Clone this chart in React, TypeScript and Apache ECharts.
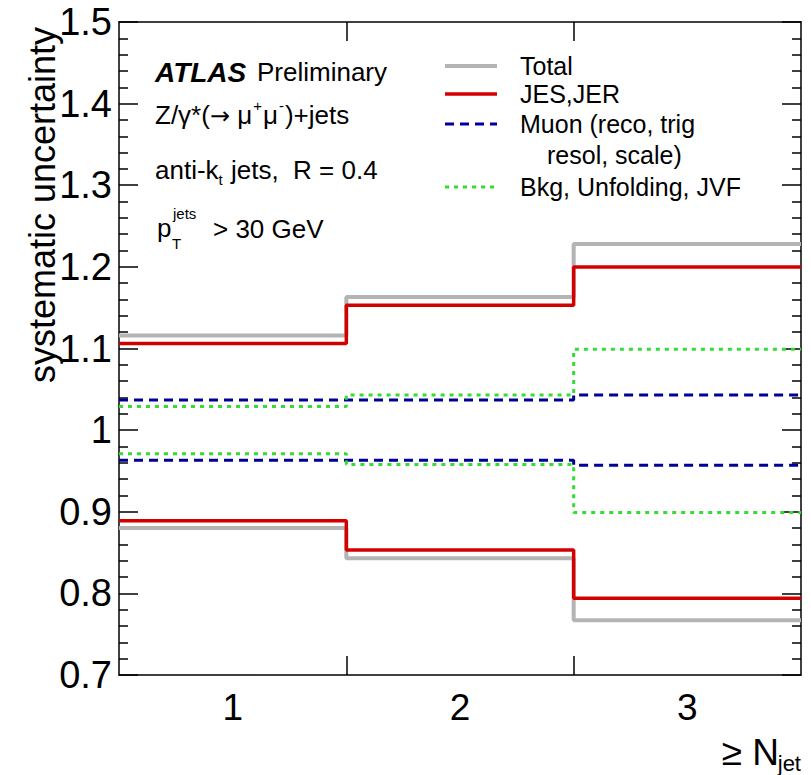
import React, { useEffect, useRef } from "react";
import * as echarts from "echarts";

const binEdges = [0.5, 1.5, 2.5, 3.5];
const xTickLabels = [1, 2, 3];
const totalUp = [1.116, 1.163, 1.228];
const totalDown = [0.88, 0.843, 0.767];
const jesUp = [1.106, 1.153, 1.2];
const jesDown = [0.889, 0.853, 0.794];
const muonUp = [1.037, 1.037, 1.043];
const muonDown = [0.963, 0.963, 0.957];
const bkgUp = [1.029, 1.043, 1.099];
const bkgDown = [0.971, 0.958, 0.899];

const FONT = "'Liberation Sans', Arial, Helvetica, sans-serif";

function stepData(vals: number[]) {
  const d: number[][] = vals.map((v, i) => [binEdges[i], v]);
  d.push([binEdges[binEdges.length - 1], vals[vals.length - 1]]);
  return d;
}

export default function App() {
  const ref = useRef<HTMLDivElement>(null);
  useEffect(() => {
    if (!ref.current) return;
    const chart = echarts.init(ref.current, undefined, { renderer: "svg" });
    const styles: Record<string, any> = {
      Total: { color: "#b4b4b4", width: 4, type: "solid" },
      "JES,JER": { color: "#d40000", width: 3.5, type: "solid" },
      Muon: { color: "#000096", width: 3, type: [9, 6] },
      Bkg: { color: "#33dd33", width: 3, type: [4, 5] },
    };
    const mk = (name: string, vals: number[]) => ({
      name,
      type: "line",
      step: "end",
      data: stepData(vals),
      symbol: "none",
      lineStyle: styles[name],
      silent: true,
    });
    const series = [
      mk("Total", totalUp),
      mk("Total", totalDown),
      mk("JES,JER", jesUp),
      mk("JES,JER", jesDown),
      mk("Muon", muonUp),
      mk("Muon", muonDown),
      mk("Bkg", bkgUp),
      mk("Bkg", bkgDown),
    ];
    const axisLine = { show: true, lineStyle: { color: "#000", width: 1.5 } };
    const tickStyle = { color: "#000", width: 1.5 };
    const legendItems = [
      { label: "Total", y: 66, st: styles.Total },
      { label: "JES,JER", y: 94, st: styles["JES,JER"] },
      { label: "Muon (reco, trig", y: 124, st: styles.Muon },
      { label: "Bkg, Unfolding, JVF", y: 187, st: styles.Bkg },
    ];
    const graphic: any[] = [];
    legendItems.forEach((it) => {
      graphic.push({
        type: "line",
        shape: { x1: 445, y1: it.y, x2: 497, y2: it.y },
        style: { stroke: it.st.color, lineWidth: it.st.width, lineDash: Array.isArray(it.st.type) ? it.st.type : null },
      });
      graphic.push({
        type: "text",
        x: 520,
        y: it.y,
        style: { text: it.label, font: `25px ${FONT}`, fill: "#000", align: "left", verticalAlign: "middle" },
      });
    });
    graphic.push({
      type: "text",
      x: 547,
      y: 155,
      style: { text: "resol, scale)", font: `25px ${FONT}`, fill: "#000", align: "left", verticalAlign: "middle" },
    });
    const t = (text: string, x: number, y: number, size: number, extra: any = {}) => ({
      type: "text",
      x,
      y,
      style: { text, font: `${extra.weight || ""} ${extra.italic ? "italic" : ""} ${size}px ${FONT}`, fill: "#000", align: extra.align || "left", verticalAlign: "middle" },
      rotation: extra.rotation || 0,
    });
    graphic.push(t("ATLAS", 155, 72, 28, { weight: "bold", italic: true }));
    graphic.push(t("Preliminary", 257, 72, 26));
    graphic.push({
      type: "text",
      x: 155,
      y: 113,
      style: {
        text: "{a|Z/γ*(}{r|→}{a| μ}{s|+}{a|μ}{s|-}{a|)+jets}",
        fill: "#000",
        align: "left",
        verticalAlign: "middle",
        rich: {
          a: { font: `26px ${FONT}`, lineHeight: 30, verticalAlign: "bottom" },
          r: { font: `24px 'DejaVu Sans', sans-serif`, lineHeight: 30, verticalAlign: "bottom" },
          s: { font: `15px ${FONT}`, lineHeight: 30, verticalAlign: "top", padding: [0, 1, 0, 1] },
        },
      },
    });
    graphic.push({
      type: "text",
      x: 155,
      y: 172,
      style: {
        text: "{a|anti-k}{b|t}{a| jets,  R = 0.4}",
        fill: "#000",
        align: "left",
        verticalAlign: "middle",
        rich: {
          a: { font: `26px ${FONT}`, lineHeight: 30, verticalAlign: "top" },
          b: { font: `15px ${FONT}`, lineHeight: 30, verticalAlign: "bottom", padding: [0, 1, 0, 0] },
        },
      },
    });
    graphic.push(t("p", 157, 228, 26));
    graphic.push(t("jets", 173, 213, 15));
    graphic.push(t("T", 172, 243, 15));
    graphic.push(t("> 30 GeV", 213, 229, 26));
    graphic.push(t("systematic uncertainty", 42, 205, 36, { align: "center", rotation: Math.PI / 2 }));
    graphic.push(t("≥ N", 779, 752, 37, { align: "right" }));
    graphic.push(t("jet", 801, 763, 22, { align: "right" }));

    chart.setOption({
      animation: false,
      backgroundColor: "#fff",
      grid: { left: 119, right: 10, top: 22, bottom: 100 },
      xAxis: [
        {
          type: "value",
          min: 0.5,
          max: 3.5,
          position: "bottom",
          axisLine,
          splitLine: { show: false },
          axisTick: { show: true, inside: true, length: 19, lineStyle: tickStyle, customValues: [1.5, 2.5] },
          axisLabel: { show: true, customValues: xTickLabels, margin: 14, color: "#000", fontSize: 37, fontFamily: FONT },
        },
        {
          type: "value",
          min: 0.5,
          max: 3.5,
          position: "top",
          axisLine,
          splitLine: { show: false },
          axisTick: { show: true, inside: true, length: 19, lineStyle: tickStyle, customValues: [1.5, 2.5] },
          axisLabel: { show: false },
        },
      ],
      yAxis: [
        {
          type: "value",
          min: 0.7,
          max: 1.5,
          interval: 0.1,
          position: "left",
          axisLine,
          splitLine: { show: false },
          axisTick: { show: true, inside: true, length: 19, lineStyle: tickStyle },
          minorTick: { show: true, splitNumber: 5, length: 9, lineStyle: tickStyle },
          axisLabel: { show: true, margin: 7, color: "#000", fontSize: 38, fontFamily: FONT },
        },
        {
          type: "value",
          min: 0.7,
          max: 1.5,
          interval: 0.1,
          position: "right",
          axisLine,
          splitLine: { show: false },
          axisTick: { show: true, inside: true, length: 19, lineStyle: tickStyle },
          minorTick: { show: true, splitNumber: 5, length: 9, lineStyle: tickStyle },
          axisLabel: { show: false },
        },
      ],
      series,
      graphic,
    });
    return () => chart.dispose();
  }, []);
  return <div ref={ref} style={{ width: 811, height: 775, position: "absolute", left: 0, top: 0 }} />;
}
